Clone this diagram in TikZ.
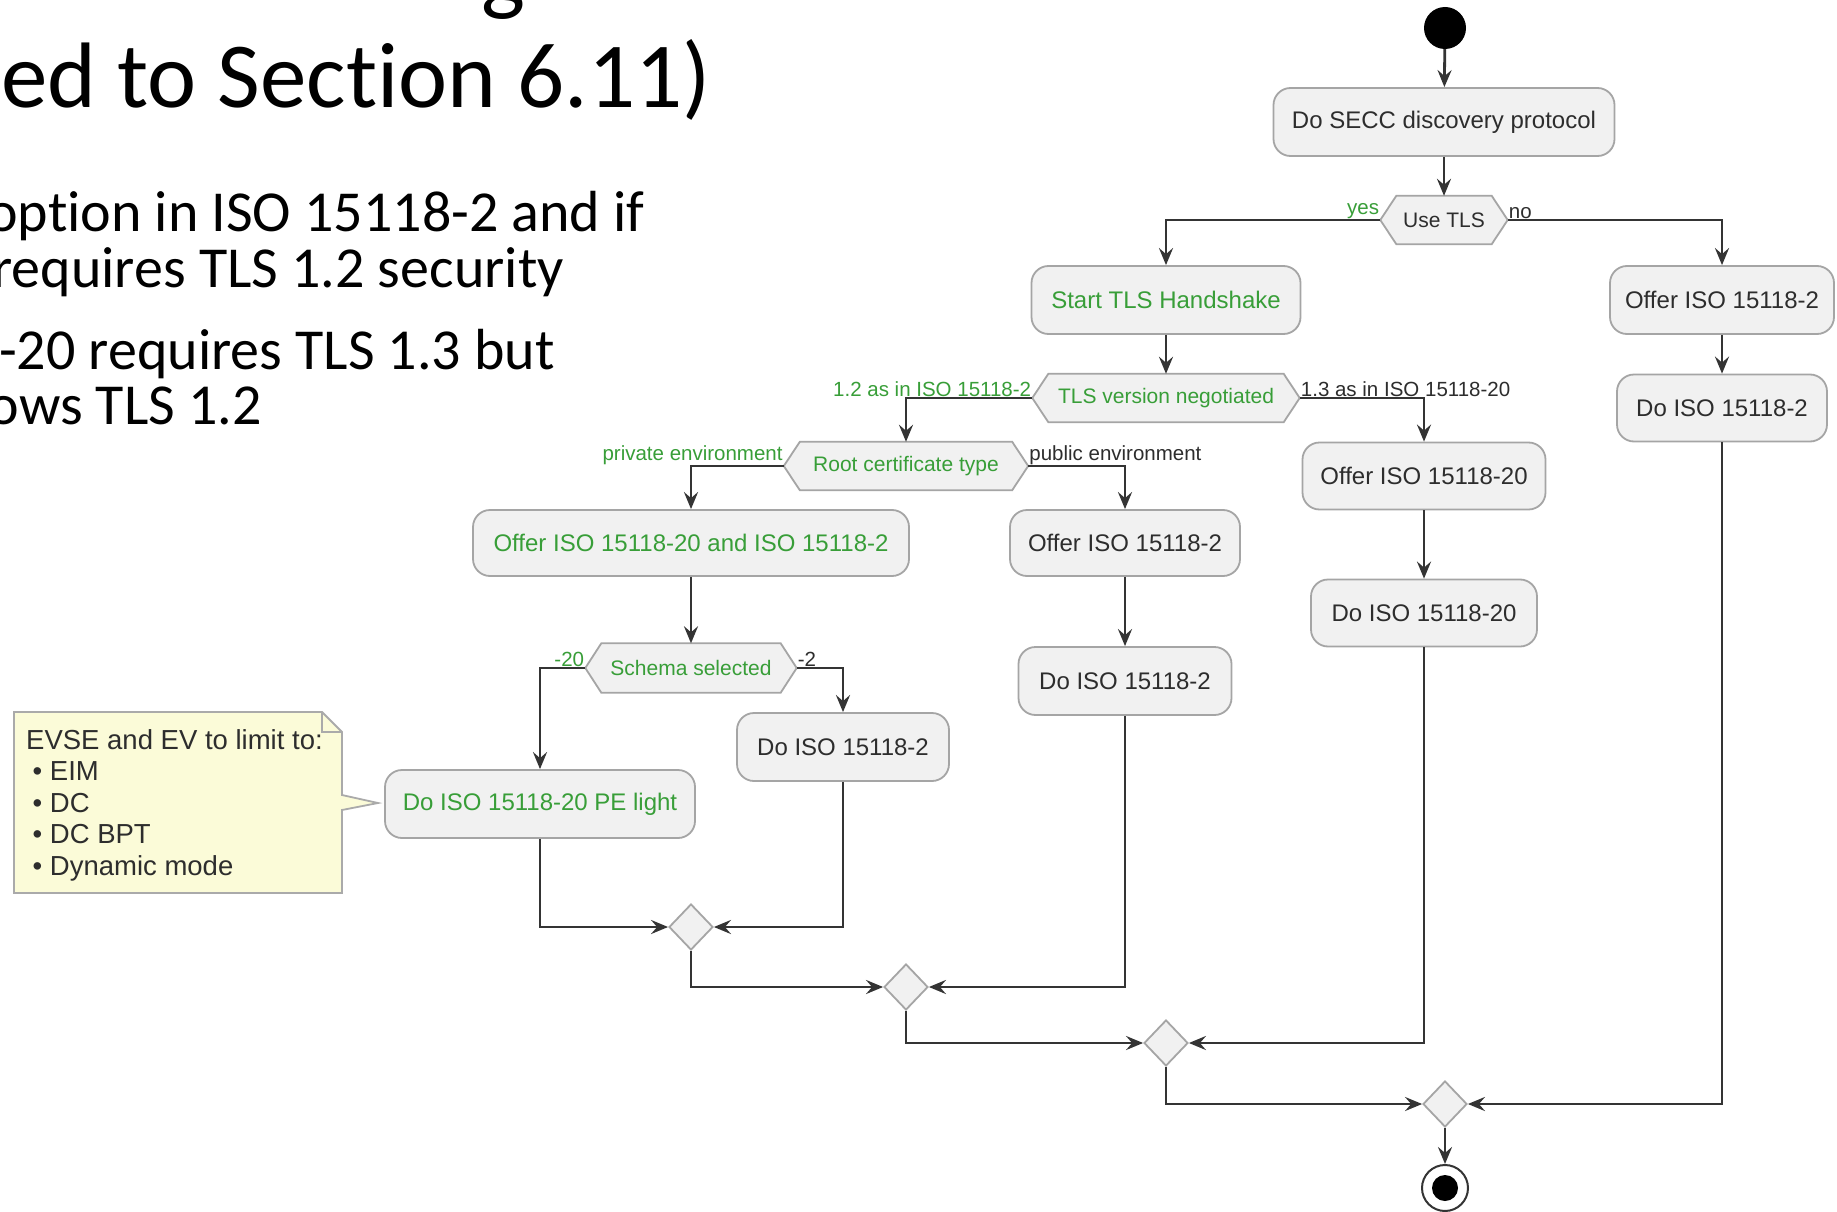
\documentclass[tikz,border=0pt]{standalone}
\usepackage{fontspec}
\newfontfamily\titlefont[Ligatures={NoCommon}]{Carlito}
\newfontfamily\umlfont{Liberation Sans}
\usetikzlibrary{arrows.meta,backgrounds,calc,shapes.geometric}
\definecolor{umlgreen}{RGB}{56,158,56}
\definecolor{boxfill}{RGB}{241,241,241}
\definecolor{boxline}{RGB}{165,165,165}
\definecolor{flow}{RGB}{52,52,52}
\definecolor{notefill}{RGB}{251,251,216}
\definecolor{noteline}{RGB}{170,170,170}
\definecolor{txt}{RGB}{45,45,45}
\newcommand\hexbg[1]{\draw[hexshape] (#1.west) -- ([xshift=16pt]#1.north west) -- ([xshift=-16pt]#1.north east) -- (#1.east) -- ([xshift=-16pt]#1.south east) -- ([xshift=16pt]#1.south west) -- cycle;}
\begin{document}
\begin{tikzpicture}[x=1pt,y=-1pt,
  act/.style={draw=boxline, line width=1.8pt, fill=boxfill, rounded corners=17pt, minimum height=68pt, inner sep=0pt, font=\umlfont\fontsize{24}{28}\selectfont, text=txt},
  hex/.style={minimum height=48pt, inner sep=0pt, font=\umlfont\fontsize{21}{25}\selectfont, text=txt},
  hexshape/.style={draw=boxline, line width=1.8pt, fill=boxfill},
  merge/.style={diamond, draw=boxline, line width=1.8pt, fill=boxfill, minimum width=44pt, minimum height=46pt, inner sep=0pt},
  lbl/.style={font=\umlfont\fontsize{20.5}{24}\selectfont, inner sep=1pt, text=txt},
  glbl/.style={lbl, text=umlgreen},
  flowline/.style={draw=flow, line width=2.8pt, -{Stealth[length=17pt,width=14pt,inset=6pt]}},
  slide/.style={font=\titlefont, text=black, inner sep=0pt},
]
\useasboundingbox (0,0) rectangle (1837,1212);

% slide text (clipped at the left border)
\node[slide, anchor=base east, font=\titlefont\fontsize{93}{100}\selectfont] (title) at (711,108) {ed to Section 6.11)};
\node[slide, anchor=base, font=\titlefont\fontsize{93}{100}\selectfont] (titleg) at (503,4) {g};
\node[slide, anchor=base east, font=\titlefont\fontsize{58}{60}\selectfont] (b1) at (645,231) {option in ISO 15118-2 and if};
\node[slide, anchor=base east, font=\titlefont\fontsize{58}{60}\selectfont] (b2) at (564,287) {requires TLS 1.2 security};
\node[slide, anchor=base east, font=\titlefont\fontsize{58}{60}\selectfont] (b3) at (555,369) {-20 requires TLS 1.3 but};
\node[slide, anchor=base east, font=\titlefont\fontsize{58}{60}\selectfont] (b4) at (262,424) {ows TLS 1.2};

% activity nodes
\node[circle, fill=black, minimum size=42pt, inner sep=0pt] (start) at (1445,28) {};
\node[act, minimum width=341pt] (secc) at (1444,122) {Do SECC discovery protocol};
\node[hex, minimum width=127pt] (usetls) at (1444,220) {Use TLS};
\node[act, minimum width=269pt, text=umlgreen] (starttls) at (1166,300) {Start TLS Handshake};
\node[act, minimum width=224pt] (offerA) at (1722,300) {Offer ISO 15118-2};
\node[act, minimum width=210pt, minimum height=67pt] (doA) at (1722,408) {Do ISO 15118-2};
\node[hex, minimum width=267pt, text=umlgreen] (tlsver) at (1166,398) {TLS version negotiated};
\node[hex, minimum width=244pt, text=umlgreen] (root) at (906,466) {Root certificate type};
\node[act, minimum width=436pt, minimum height=66pt, text=umlgreen] (offerB) at (691,543) {Offer ISO 15118-20 and ISO 15118-2};
\node[act, minimum width=230pt, minimum height=66pt] (offerC) at (1125,543) {Offer ISO 15118-2};
\node[act, minimum width=213pt] (doC) at (1125,681) {Do ISO 15118-2};
\node[act, minimum width=243pt, minimum height=67pt] (offer20) at (1424,476) {Offer ISO 15118-20};
\node[act, minimum width=226pt, minimum height=67pt] (do20) at (1424,613) {Do ISO 15118-20};
\node[hex, minimum width=211pt, minimum height=49pt, text=umlgreen] (schema) at (691,668) {Schema selected};
\node[act, minimum width=310pt, text=umlgreen] (pelight) at (540,804) {Do ISO 15118-20 PE light};
\node[act, minimum width=212pt] (doB) at (843,747) {Do ISO 15118-2};
\node[merge] (m1) at (691,927) {};
\node[merge] (m2) at (906,987) {};
\node[merge] (m3) at (1166,1043) {};
\node[merge] (m4) at (1445,1104) {};
\node[circle, draw=flow, line width=2pt, fill=white, minimum size=46pt, inner sep=0pt] (end) at (1445,1188) {};
\node[circle, fill=black, minimum size=26pt, inner sep=0pt] (endcore) at (end.center) {};

\begin{pgfonlayer}{background}
  \fill[white] (0,0) rectangle (1837,1212);
  \hexbg{usetls}
  \hexbg{tlsver}
  \hexbg{root}
  \hexbg{schema}
\end{pgfonlayer}

% note
\draw[draw=noteline, line width=1.8pt, fill=notefill]
  (14,712) -- (322,712) -- (342,732) -- (342,795) -- (378,803) -- (342,810) -- (342,893) -- (14,893) -- cycle;
\draw[draw=noteline, line width=1.5pt] (322,712) -- (322,732) -- (342,732);
\node[anchor=north west, align=left, inner sep=0pt, font=\umlfont\fontsize{27.5}{31.5}\selectfont, text=txt] (note) at (26,729)
  {EVSE and EV to limit to:\\
   \hspace*{6.5pt}\textbullet{} EIM\\
   \hspace*{6.5pt}\textbullet{} DC\\
   \hspace*{6.5pt}\textbullet{} DC BPT\\
   \hspace*{6.5pt}\textbullet{} Dynamic mode};

% connectors
\draw[flowline] (start) -- (secc);
\draw[flowline] (secc) -- (usetls);
\draw[flowline] (usetls.west) -| (starttls);
\draw[flowline] (usetls.east) -| (offerA);
\draw[flowline] (starttls) -- (tlsver);
\draw[flowline] (offerA) -- (doA);
\draw[flowline] (tlsver.west) -| (root);
\draw[flowline] (tlsver.east) -| (offer20);
\draw[flowline] (root.west) -| (offerB);
\draw[flowline] (root.east) -| (offerC);
\draw[flowline] (offerC) -- (doC);
\draw[flowline] (offer20) -- (do20);
\draw[flowline] (offerB) -- (schema);
\draw[flowline] (schema.west) -| (pelight);
\draw[flowline] (schema.east) -| (doB);
\draw[flowline] (pelight) |- (m1);
\draw[flowline] (doB) |- (m1);
\draw[flowline] (m1) |- (m2);
\draw[flowline] (doC) |- (m2);
\draw[flowline] (m2) |- (m3);
\draw[flowline] (do20) |- (m3);
\draw[flowline] (m3) |- (m4);
\draw[flowline] (doA) |- (m4);
\draw[flowline] (m4) -- (end);

% branch labels
\node[glbl, anchor=south east] (lyes) at (usetls.west) {yes};
\node[lbl, anchor=south west] (lno) at (usetls.east) {no};
\node[glbl, anchor=south east] (l12) at (tlsver.west) {1.2 as in ISO 15118-2};
\node[lbl, anchor=south west] (l13) at (tlsver.east) {1.3 as in ISO 15118-20};
\node[glbl, anchor=south east] (lpriv) at (root.west) {private environment};
\node[lbl, anchor=south west] (lpub) at (root.east) {public environment};
\node[glbl, anchor=south east] (l20) at (schema.west) {-20};
\node[lbl, anchor=south west] (l2) at (schema.east) {-2};
\end{tikzpicture}
\end{document}
